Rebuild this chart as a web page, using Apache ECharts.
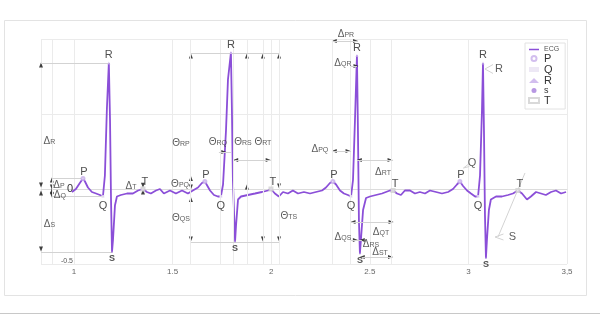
<!DOCTYPE html>
<html><head><meta charset="utf-8">
<script src="https://cdn.jsdelivr.net/npm/echarts@6/dist/echarts.min.js"></script>
<style>html,body{margin:0;padding:0;background:#fff}#c{width:600px;height:315px}</style>
</head><body><div id="c"></div>
<script>
// ECG samples [time (s), amplitude]
const ecgSamples = [
[0.990,-0.02],[1.010,0.00],[1.030,0.04],[1.046,0.07],[1.056,0.05],[1.071,0.01],[1.091,-0.02],[1.112,-0.03],[1.132,-0.04],[1.147,-0.05],
[1.157,0.09],[1.167,0.53],[1.177,0.84],[1.183,0.46],[1.188,-0.07],[1.193,-0.42],[1.198,-0.34],[1.208,-0.11],[1.218,-0.05],[1.238,-0.04],
[1.269,-0.03],[1.299,-0.03],[1.325,-0.01],[1.350,0.00],[1.370,-0.02],[1.390,-0.03],[1.416,-0.01],[1.436,0.00],[1.456,-0.03],[1.487,-0.01],
[1.517,-0.03],[1.548,-0.01],[1.578,-0.03],[1.603,-0.01],[1.629,0.01],[1.649,0.04],[1.664,0.05],[1.674,0.04],[1.690,-0.01],[1.710,-0.04],
[1.730,-0.05],[1.745,-0.05],[1.756,0.03],[1.771,0.39],[1.781,0.73],[1.796,0.91],[1.801,0.53],[1.806,0.06],[1.817,-0.35],[1.822,-0.24],
[1.832,-0.07],[1.847,-0.05],[1.882,-0.04],[1.918,-0.03],[1.953,-0.02],[1.984,-0.01],[1.999,0.00],[2.019,-0.03],[2.039,-0.05],[2.060,-0.02],
[2.085,-0.03],[2.110,-0.01],[2.136,-0.03],[2.166,-0.02],[2.197,-0.03],[2.227,-0.02],[2.258,-0.01],[2.278,0.01],[2.298,0.04],[2.313,0.05],
[2.329,0.03],[2.349,-0.01],[2.369,-0.03],[2.389,-0.04],[2.405,-0.05],[2.415,0.06],[2.425,0.46],[2.435,0.89],[2.440,0.39],[2.445,-0.21],
[2.450,-0.43],[2.455,-0.34],[2.466,-0.14],[2.481,-0.06],[2.501,-0.05],[2.531,-0.04],[2.562,-0.03],[2.582,-0.02],[2.602,-0.01],[2.618,-0.01],
[2.638,-0.03],[2.658,-0.04],[2.678,-0.01],[2.704,-0.01],[2.729,-0.03],[2.754,-0.02],[2.780,-0.03],[2.805,-0.01],[2.836,-0.02],[2.866,-0.03],
[2.897,-0.02],[2.922,0.00],[2.942,0.03],[2.957,0.05],[2.973,0.02],[2.993,-0.01],[3.013,-0.03],[3.034,-0.05],[3.049,-0.05],[3.059,0.09],
[3.069,0.53],[3.074,0.84],[3.079,0.39],[3.084,-0.17],[3.089,-0.46],[3.094,-0.34],[3.104,-0.14],[3.114,-0.07],[3.140,-0.05],[3.170,-0.05],
[3.201,-0.04],[3.226,-0.03],[3.251,-0.01],[3.272,-0.03],[3.297,-0.07],[3.317,-0.05],[3.343,-0.02],[3.368,-0.03],[3.393,-0.04],[3.419,-0.02],
[3.444,-0.01],[3.470,-0.03],[3.495,-0.02]
];
// fiducial points
const pPoints = [[1.046,0.07],[1.664,0.05],[2.313,0.05],[2.957,0.05]];
const qPoints = [[1.147,-0.05],[1.745,-0.05],[2.405,-0.05],[3.049,-0.05]];
const rPoints = [[1.177,0.84],[1.796,0.91],[2.435,0.89],[3.074,0.84]];
const sPoints = [[1.193,-0.42],[1.817,-0.35],[2.450,-0.43],[3.089,-0.46]];
const tPoints = [[1.350,0.00],[1.999,0.00],[2.618,-0.01],[3.251,-0.01]];
// axis ticks
const xTickValues = [1,1.5,2,2.5,3,3.5];
const xTickLabels = ['1','1.5','2','2.5','3','3,5'];
const yTickValues = [0,-0.5];
const yTickLabels = ['0','-0.5'];
// annotation labels: [symbol, subscript, x, y]
const annotLabels = [
 ['Δ','R',0.876,0.327],['Δ','S',0.876,-0.227],['Δ','P',0.924,0.033],['Δ','Q',0.929,-0.033],['Δ','T',1.289,0.027],
 ['Θ','RP',1.543,0.313],['Θ','PQ',1.538,0.04],['Θ','QS',1.543,-0.187],['Θ','RQ',1.730,0.32],['Θ','RS',1.857,0.32],
 ['Θ','RT',1.958,0.32],['Θ','TS',2.090,-0.173],
 ['Δ','PR',2.379,1.04],['Δ','QR',2.364,0.847],['Δ','PQ',2.247,0.273],['Δ','RT',2.567,0.12],['Δ','QS',2.364,-0.313],
 ['Δ','QT',2.557,-0.28],['Δ','RS',2.506,-0.36],['Δ','ST',2.552,-0.413]
];
const extraLabels = [['R',3.155,0.80],['Q',3.018,0.173],['S',3.223,-0.32]];
// arrowheads: [x, y, rotation]
const arrowHeads = [
 [0.833,0.827,0],[0.833,0.027,180],[0.833,-0.027,0],[0.833,-0.40,180],
 [0.888,0.06,0],[0.888,0.013,180],[0.888,-0.013,0],[0.888,-0.04,180],
 [1.350,0.025,180],[1.350,-0.02,0],
 [1.593,0.887,0],[1.877,0.887,0],[1.958,0.887,0],[2.040,0.887,0],
 [1.593,0.07,0],[1.593,0.013,180],[1.593,-0.07,0],[1.593,-0.333,180],[1.958,-0.333,180],[2.040,-0.333,180],
 [1.760,0.247,-90],[1.820,0.193,90],[1.985,0.193,-90],[1.877,0.013,0],[2.040,0.02,180],
 [2.320,0.987,90],[2.428,0.987,-90],[2.430,0.82,-90],[2.320,0.253,90],[2.390,0.253,-90],
 [2.447,0.193,90],[2.603,0.193,-90],[2.415,-0.22,90],[2.608,-0.22,-90],
 [2.427,-0.34,-90],[2.462,-0.34,90],[2.462,-0.453,90],[2.605,-0.453,-90]
];
// annotation segments [[x1,y1],[x2,y2]]
const annotSegments = [
 [[0.833,0.84],[1.177,0.84]],[[0.833,-0.42],[1.193,-0.42]],[[0.888,0.07],[1.046,0.07]],[[0.888,-0.05],[1.147,-0.05]],
 [[1.593,0.907],[2.040,0.907]],[[1.593,-0.353],[2.040,-0.353]],[[1.735,0.247],[1.796,0.247]],[[1.816,0.193],[1.999,0.193]],
 [[2.313,0.987],[2.435,0.987]],[[2.405,0.82],[2.435,0.82]],[[2.313,0.253],[2.405,0.253]],[[2.435,0.193],[2.618,0.193]],
 [[2.405,-0.22],[2.618,-0.22]],[[2.405,-0.34],[2.460,-0.34]],[[2.450,-0.453],[2.618,-0.453]],
 [[3.084,0.80],[3.125,0.83]],[[3.084,0.80],[3.125,0.77]],
 [[2.975,0.14],[3.005,0.17]],[[2.975,0.14],[3.005,0.15]],
 [[3.135,-0.32],[3.178,-0.30]],[[3.135,-0.32],[3.178,-0.34]],[[3.150,-0.32],[3.287,0.107]]
];
const extraGridX = [0.888,1.593,1.735,1.806,1.877,1.958,2.040,2.313,2.405,2.613];

const FONT = 'Liberation Sans, Arial, sans-serif';
const ECG_COLOR = '#8b4fd8';
const chart = echarts.init(document.getElementById('c'), null, {renderer:'canvas'});

function waveSeries(name, data, symbol, color, size, offset, fs, fw){
  return {
    name, type:'scatter', data, symbol, symbolSize:size, clip:false, z:5,
    itemStyle:{color}, silent:true,
    label:{show:true, position:'inside', offset, formatter:name, fontSize:fs, fontWeight:fw||'normal', color:'#222', fontFamily:FONT}
  };
}

const option = {
  animation:false,
  textStyle:{fontFamily:FONT},
  grid:{left:41, right:33, top:39, bottom:51},
  xAxis:{
    type:'value', min:0.833, max:3.5,
    axisLine:{show:true, lineStyle:{color:'#dcdcdc'}}, axisTick:{show:false},
    splitLine:{show:true, lineStyle:{color:'#ebebeb'}},
    axisLabel:{fontSize:8, color:'#666', margin:4, formatter:v=>{const i=xTickValues.indexOf(Math.round(v*100)/100);return i<0?'':xTickLabels[i];}}
  },
  yAxis:{
    type:'value', min:-0.5, max:1, interval:0.5, position:'left', offset:-33,
    axisLine:{show:false}, axisTick:{show:false},
    splitLine:{show:true, lineStyle:{color:'#ebebeb'}},
    axisLabel:{margin:1, formatter:v=>{const i=yTickValues.indexOf(v);if(i<0)return '';return v===0?'{z|'+yTickLabels[i]+'}':'{n|'+yTickLabels[i]+'}';},
      rich:{z:{fontSize:11,color:'#333'}, n:{fontSize:7,color:'#555',padding:[0,0,6,0]}}}
  },
  legend:{
    orient:'vertical', left:525, top:43, itemWidth:10, itemHeight:5, itemGap:0, padding:[3,6,3,3],
    backgroundColor:'#fff', borderColor:'#e2e2e2', borderWidth:1, selectedMode:false,
    data:[{name:'ECG', itemStyle:{opacity:0}, lineStyle:{color:ECG_COLOR, width:1.5, opacity:1}},'P','Q','R','S','T'],
    formatter:n=> n==='ECG' ? '{e|ECG}' : (n==='S' ? '{ls|s}' : '{l|'+n+'}'),
    textStyle:{rich:{e:{fontSize:7,color:'#555',lineHeight:9}, l:{fontSize:11,color:'#333',lineHeight:9}, ls:{fontSize:9,color:'#333',lineHeight:8}}}
  },
  graphic:[
    {type:'rect', silent:true, z:-10, shape:{x:4.5,y:20.5,width:582,height:275}, style:{fill:'none', stroke:'#e3e3e3', lineWidth:1}},
    {type:'line', silent:true, shape:{x1:0,y1:313.5,x2:600,y2:313.5}, style:{stroke:'#c8c8c8', lineWidth:1}}
  ],
  series:[
    {
      name:'arrows', type:'scatter', symbol:'triangle', symbolSize:[4,5], clip:false, silent:true, z:4,
      itemStyle:{color:'#111'},
      data: arrowHeads.map(a=>({value:[a[0],a[1]], symbolRotate:a[2]})),
      markLine:{
        silent:true, symbol:['none','none'], label:{show:false}, animation:false,
        lineStyle:{color:'#d3d3d3', width:1, type:'solid'},
        emphasis:{disabled:true},
        data: extraGridX.map(v=>({xAxis:v, lineStyle:{color:'#ebebeb', width:1, type:'solid'}}))
          .concat(annotSegments.map(s=>[{coord:s[0]},{coord:s[1]}]))
      }
    },
    {
      name:'ECG', type:'line', data:ecgSamples, symbol:'none', z:3, silent:true,
      lineStyle:{color:ECG_COLOR, width:1.8}, itemStyle:{color:ECG_COLOR}
    },
    waveSeries('P', pPoints, 'emptyCircle', '#c7aeea', 3, [1,-7], 11),
    waveSeries('Q', qPoints, 'rect', '#e9e2f2', 3, [0,9], 11),
    waveSeries('R', rPoints, 'triangle', '#c7aeea', 3, [0,-8], 11),
    waveSeries('S', sPoints, 'circle', '#a57ddb', 2, [0,7], 9, 'bold'),
    waveSeries('T', tPoints, 'emptyRect', '#cfcfcf', 3, [2,-7], 11),
    {
      name:'annot', type:'scatter', symbolSize:1, clip:false, silent:true, z:6,
      itemStyle:{color:'rgba(0,0,0,0)'},
      data: annotLabels.map(a=>({value:[a[2],a[3]], t:'{m|'+a[0]+'}{s|'+a[1]+'}'})),
      label:{show:true, position:'inside', formatter:p=>p.data.t,
        rich:{m:{fontSize:10,color:'#333',verticalAlign:'bottom',lineHeight:12,fontFamily:FONT},
              s:{fontSize:7,color:'#333',verticalAlign:'bottom',lineHeight:11,fontFamily:FONT}}}
    },
    {
      name:'extra', type:'scatter', symbolSize:1, clip:false, silent:true, z:6,
      itemStyle:{color:'rgba(0,0,0,0)'},
      data: extraLabels.map(a=>({value:[a[1],a[2]], t:a[0]})),
      label:{show:true, position:'inside', formatter:p=>p.data.t, fontSize:11, color:'#333', fontFamily:FONT}
    }
  ]
};
chart.setOption(option);
</script></body></html>
